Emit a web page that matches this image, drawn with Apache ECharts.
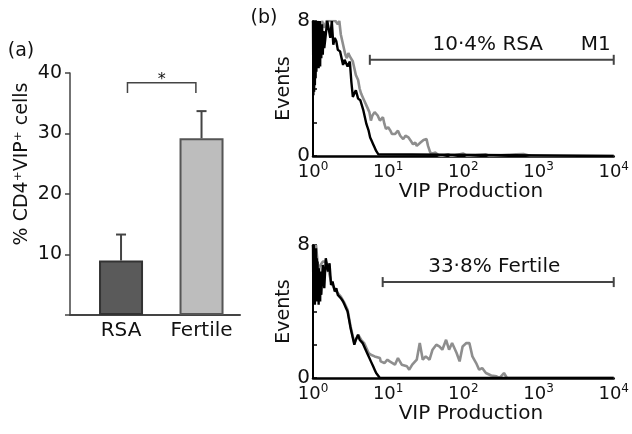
<!DOCTYPE html>
<html><head><meta charset="utf-8">
<script src="https://cdn.jsdelivr.net/npm/echarts@6/dist/echarts.min.js"></script>
<style>html,body{margin:0;padding:0;background:#fff}#c{width:632px;height:434px}</style>
</head><body><div id="c"></div>
<script>
// ---------- Panel (a) data ----------
const groups = ['RSA', 'Fertile'];
const groupMeans = [9.0, 29.2];
const groupErrors = [4.3, 4.5];
const yTicksA = [10, 20, 30, 40];
const sigBracketX = [0.08, 0.93];   // bracket ends (x data units)
const sigBracketY = [38.4, 36.7];   // bracket top / leg ends
const sigLabel = '*';

// ---------- Panel (b) data: exponents of VIP (10^e) and event counts ----------
const decades = [0, 1, 2, 3, 4];

const rsaGrayExp = [0,0.03,0.06,0.09,0.12,0.15,0.18,0.22,0.26,0.30,0.33,0.35,0.37,0.39,0.41,0.43,0.45,0.47,0.49,0.51,0.53,0.55,0.57,0.60,0.62,0.64,0.66,0.69,0.71,0.73,0.75,0.77,0.79,0.82,0.84,0.86,0.89,0.91,0.93,0.95,0.97,1.00,1.03,1.05,1.07,1.09,1.11,1.13,1.16,1.18,1.20,1.23,1.25,1.27,1.30,1.33,1.36,1.38,1.40,1.43,1.45,1.47,1.49,1.51,1.53,1.56,1.59,1.63,1.67,1.71,1.80,1.84,2.00,2.05,2.30,2.35,2.70,2.80,2.90,4.00];
const rsaGrayEvents = [8,7.0,8,7.2,8,7.6,8,8,8,8,7.8,8,7.2,6.8,6.4,6.0,5.8,6.1,5.9,5.9,5.6,5.2,4.8,4.5,4.0,3.7,3.5,3.2,3.0,3.0,2.6,2.1,2.4,2.6,2.7,2.4,2.1,2.2,2.3,1.9,1.6,1.7,1.5,1.3,1.4,1.3,1.4,1.5,1.2,1.1,1.0,1.2,1.1,1.1,0.9,0.7,0.8,0.6,0.6,0.8,0.9,0.95,1.0,1.0,0.6,0.2,0.15,0.2,0.05,0,0.1,0,0.15,0,0.1,0,0.1,0.12,0,0];

const rsaBlackExp = [0,0.005,0.01,0.015,0.02,0.025,0.03,0.035,0.04,0.045,0.05,0.055,0.06,0.065,0.07,0.075,0.08,0.085,0.09,0.095,0.10,0.11,0.12,0.13,0.14,0.15,0.17,0.19,0.21,0.23,0.25,0.27,0.29,0.31,0.33,0.36,0.38,0.40,0.42,0.44,0.46,0.49,0.51,0.53,0.55,0.57,0.60,0.63,0.65,0.67,0.69,0.71,0.74,0.76,0.78,0.80,0.82,0.84,0.87,0.89,4.00];
const rsaBlackEvents = [8,3.6,8,3.8,8,4.2,7.8,4.6,8,5.0,8,5.4,7.6,5.6,8,5.2,7.6,5.6,8,5.3,7.4,5.8,7.8,6.0,7.4,6.4,7.2,8,8,7.0,8,6.6,7.0,6.8,6.3,6.2,5.8,5.4,5.7,5.6,5.3,5.6,4.4,3.5,3.7,3.9,3.4,3.3,3.0,2.7,2.3,1.9,1.5,1.1,0.9,0.7,0.5,0.3,0.1,0,0];

const fertGrayExp = [0,0.02,0.04,0.07,0.10,0.13,0.17,0.20,0.24,0.29,0.33,0.37,0.42,0.46,0.50,0.55,0.60,0.64,0.68,0.71,0.74,0.77,0.82,0.89,0.90,0.95,0.99,1.02,1.09,1.13,1.18,1.25,1.28,1.32,1.38,1.42,1.46,1.50,1.55,1.59,1.64,1.68,1.72,1.77,1.81,1.85,1.91,1.95,1.99,2.04,2.08,2.12,2.17,2.21,2.25,2.30,2.37,2.44,2.48,2.54,2.58,4.00];
const fertGrayEvents = [8,7.0,8,6.5,6.8,7.0,7.0,6.6,5.8,5.3,5.1,4.9,4.5,4.1,3.1,2.1,2.6,2.3,2.1,1.8,1.5,1.4,1.3,1.2,1.0,0.9,1.1,1.0,0.8,1.2,0.8,0.7,0.5,0.8,1.1,2.1,1.1,1.3,1.1,1.7,2.0,1.9,1.7,2.3,1.7,2.1,1.5,1.0,1.9,2.1,2.1,1.3,0.9,0.5,0.6,0.3,0.15,0.1,0,0.3,0,0];

const fertBlackExp = [0,0.005,0.01,0.015,0.02,0.025,0.03,0.035,0.04,0.045,0.05,0.055,0.06,0.065,0.07,0.075,0.08,0.085,0.09,0.095,0.10,0.11,0.13,0.15,0.17,0.20,0.22,0.24,0.26,0.29,0.31,0.33,0.35,0.37,0.40,0.42,0.44,0.46,0.48,0.50,0.52,0.55,0.57,0.60,0.62,0.64,0.66,0.68,0.70,0.73,0.75,0.77,0.80,0.82,0.84,0.86,0.89,4.00];
const fertBlackEvents = [8,4.4,8,4.6,7.8,4.4,7.6,4.8,7.8,5.0,7.2,4.6,7.0,4.8,6.6,4.4,6.6,4.6,6.4,4.6,6.4,5.0,6.8,5.4,7.2,6.4,6.9,5.6,5.8,5.2,5.4,5.0,5.1,4.8,4.6,4.4,4.2,4.0,3.5,3.0,2.6,2.0,2.3,2.6,2.3,2.2,2.1,2.0,1.7,1.4,1.2,1.0,0.7,0.5,0.3,0.2,0,0];

const gateRsaRange = [5.7, 10000];
const gateRsaLevel = 5.7;
const gateRsaText = '10·4% RSA';
const gateRsaName = 'M1';
const gateFertRange = [8.45, 10000];
const gateFertLevel = 5.77;
const gateFertText = '33·8% Fertile';

// ---------- build ----------
const FONT = 'DejaVu Sans';
const TXT = '#111';
const toPts = (ex, ev) => ex.map((e, i) => [Math.pow(10, e), ev[i]]);

function histX(idx) {
  return {
    type: 'log', logBase: 10, gridIndex: idx, min: 1, max: 10000,
    axisLine: {show: true, lineStyle: {color: '#000', width: 2.5}},
    axisTick: {show: false}, splitLine: {show: false}, minorTick: {show: false},
    axisLabel: {
      margin: 5, color: TXT,
      formatter: v => '{b|10}{s|' + Math.round(Math.log10(v)) + '}',
      rich: {
        b: {fontFamily: FONT, fontSize: 18, lineHeight: 22, color: TXT},
        s: {fontFamily: FONT, fontSize: 12, lineHeight: 22, verticalAlign: 'top', color: TXT, padding: [0, 0, 8, 0]}
      }
    },
    name: 'VIP Production', nameLocation: 'middle', nameGap: 26,
    nameTextStyle: {fontFamily: FONT, fontSize: 20, color: TXT, padding: [0, 0, 0, 15]}
  };
}
function histY(idx) {
  return {
    type: 'value', gridIndex: idx, min: 0, max: 8, interval: 2,
    axisLine: {show: true, onZero: false, lineStyle: {color: '#000', width: 2}},
    axisTick: {show: true, inside: true, length: 4, lineStyle: {color: '#000', width: 1.5}},
    splitLine: {show: false},
    axisLabel: {margin: 3, fontFamily: FONT, fontSize: 20, color: TXT,
      formatter: v => (v === 0 || v === 8) ? String(v) : ''},
    name: 'Events', nameLocation: 'middle', nameGap: 18,
    nameTextStyle: {fontFamily: FONT, fontSize: 19, color: TXT}
  };
}
function gateSeries(idx, range, level, text, tag) {
  return {
    type: 'custom', xAxisIndex: idx, yAxisIndex: idx, silent: true, z: 5,
    encode: {x: [0, 1], y: 2},
    data: [[range[0], range[1], level]],
    renderItem: (params, api) => {
      const a = api.coord([api.value(0), api.value(2)]);
      const b = api.coord([api.value(1), api.value(2)]);
      const ls = {stroke: '#444', lineWidth: 2};
      const kids = [
        {type: 'line', shape: {x1: a[0], y1: a[1], x2: b[0], y2: b[1]}, style: ls},
        {type: 'line', shape: {x1: a[0], y1: a[1] - 5, x2: a[0], y2: a[1] + 5}, style: ls},
        {type: 'line', shape: {x1: b[0], y1: b[1] - 5, x2: b[0], y2: b[1] + 5}, style: ls},
        {type: 'text', x: (a[0] + b[0]) / 2 - 4, y: a[1] - 15,
          style: {text: text, fill: TXT, font: '20px "' + FONT + '"', align: 'center', verticalAlign: 'middle'}}
      ];
      if (tag) kids.push({type: 'text', x: b[0] - 3, y: a[1] - 15,
        style: {text: tag, fill: TXT, font: '20px "' + FONT + '"', align: 'right', verticalAlign: 'middle'}});
      return {type: 'group', children: kids};
    }
  };
}
function histLine(idx, ex, ev, color, w, z) {
  return {type: 'line', xAxisIndex: idx, yAxisIndex: idx, data: toPts(ex, ev),
    showSymbol: false, symbol: 'none', silent: true, z: z,
    lineStyle: {color: color, width: w}, animation: false};
}

const option = {
  animation: false,
  backgroundColor: '#fff',
  grid: [
    {left: 70, top: 73, width: 170, height: 242},
    {left: 313, top: 21, width: 302, height: 135},
    {left: 313, top: 245, width: 302, height: 133}
  ],
  xAxis: [
    {type: 'value', gridIndex: 0, min: -0.634, max: 1.478,
      axisLine: {show: true, onZero: false, lineStyle: {color: '#444', width: 2}},
      axisTick: {show: false}, splitLine: {show: false},
      axisLabel: {customValues: [0, 1], formatter: v => groups[Math.round(v)] || '',
        fontFamily: FONT, fontSize: 20, color: TXT, margin: 6}},
    histX(1), histX(2)
  ],
  yAxis: [
    {type: 'value', gridIndex: 0, min: 0, max: 40, interval: 10,
      axisLine: {show: true, onZero: false, lineStyle: {color: '#444', width: 1.5}},
      axisTick: {show: true, length: 5, lineStyle: {color: '#444', width: 1.5}},
      splitLine: {show: false},
      axisLabel: {fontFamily: FONT, fontSize: 19, color: TXT, margin: 8,
        formatter: v => yTicksA.indexOf(v) >= 0 ? String(v) : ''}},
    histY(1), histY(2)
  ],
  graphic: [
    {type: 'text', x: 21, y: 51, style: {text: '(a)', fill: TXT, font: '19px "' + FONT + '"', align: 'center', verticalAlign: 'middle'}},
    {type: 'text', x: 264, y: 18, style: {text: '(b)', fill: TXT, font: '19px "' + FONT + '"', align: 'center', verticalAlign: 'middle'}},
    {type: 'text', x: 22, y: 164, rotation: Math.PI / 2,
      style: {text: '% CD4⁺VIP⁺ cells', fill: TXT, font: '19px "' + FONT + '"', align: 'center', verticalAlign: 'middle'}}
  ],
  series: [
    {type: 'bar', xAxisIndex: 0, yAxisIndex: 0, barWidth: 44, silent: true,
      data: groups.map((g, i) => ({
        value: [i, groupMeans[i]],
        itemStyle: i === 0 ? {color: '#5a5a5a', borderColor: '#333', borderWidth: 2}
                           : {color: '#bdbdbd', borderColor: '#555', borderWidth: 2}
      }))},
    {type: 'custom', xAxisIndex: 0, yAxisIndex: 0, silent: true, z: 3,
      encode: {x: 0, y: [1, 2]},
      data: groups.map((g, i) => [i, groupMeans[i], groupMeans[i] + groupErrors[i]]),
      renderItem: (params, api) => {
        const p0 = api.coord([api.value(0), api.value(1)]);
        const p1 = api.coord([api.value(0), api.value(2)]);
        const ls = {stroke: '#444', lineWidth: 2};
        return {type: 'group', children: [
          {type: 'line', shape: {x1: p0[0], y1: p0[1], x2: p1[0], y2: p1[1]}, style: ls},
          {type: 'line', shape: {x1: p1[0] - 5, y1: p1[1], x2: p1[0] + 5, y2: p1[1]}, style: ls}
        ]};
      }},
    {type: 'custom', xAxisIndex: 0, yAxisIndex: 0, silent: true, z: 3,
      encode: {x: [0, 1], y: [2, 3]},
      data: [[sigBracketX[0], sigBracketX[1], sigBracketY[0], sigBracketY[1]]],
      renderItem: (params, api) => {
        const a = api.coord([api.value(0), api.value(2)]);
        const b = api.coord([api.value(1), api.value(2)]);
        const a2 = api.coord([api.value(0), api.value(3)]);
        const b2 = api.coord([api.value(1), api.value(3)]);
        const ls = {stroke: '#444', lineWidth: 1.5, fill: null};
        return {type: 'group', children: [
          {type: 'polyline', shape: {points: [a2, a, b, b2]}, style: ls},
          {type: 'text', x: (a[0] + b[0]) / 2, y: a[1] - 3,
            style: {text: sigLabel, fill: TXT, font: '16px "' + FONT + '"', align: 'center', verticalAlign: 'middle'}}
        ]};
      }},
    histLine(1, rsaGrayExp, rsaGrayEvents, '#8e8e8e', 2.6, 2),
    histLine(1, rsaBlackExp, rsaBlackEvents, '#000', 2.4, 3),
    gateSeries(1, gateRsaRange, gateRsaLevel, gateRsaText, gateRsaName),
    histLine(2, fertGrayExp, fertGrayEvents, '#8e8e8e', 2.6, 2),
    histLine(2, fertBlackExp, fertBlackEvents, '#000', 2.4, 3),
    gateSeries(2, gateFertRange, gateFertLevel, gateFertText, null)
  ]
};
const chart = echarts.init(document.getElementById('c'), null, {renderer: 'canvas'});
chart.setOption(option);
</script></body></html>
